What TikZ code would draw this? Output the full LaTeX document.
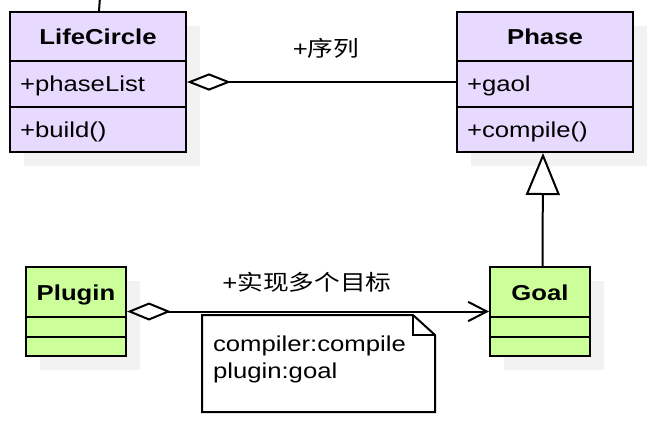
\documentclass[tikz,border=0pt]{standalone}
\usepackage{fontspec}
\setmainfont{Liberation Sans}[FakeStretch=1.19]
\newfontfamily\cjk{Noto Sans CJK SC}[FakeStretch=1.19]
\usetikzlibrary{arrows.meta,calc}
\definecolor{classpurple}{RGB}{232,218,255}
\definecolor{classgreen}{RGB}{204,255,153}
\definecolor{shadowgray}{RGB}{242,242,242}
\begin{document}
\begin{tikzpicture}[x=0.75pt,y=-0.75pt,line width=1.5pt,
  classbox/.style={draw=black,rectangle,inner sep=0pt},
  shadowbox/.style={fill=shadowgray,draw=none,rectangle,inner sep=0pt},
  bigbox/.style={minimum width=132pt,minimum height=105pt},
  smallbox/.style={minimum width=75pt,minimum height=66.75pt},
  lbl/.style={inner sep=0pt,font=\fontsize{16.2pt}{19pt}\selectfont},
  ttl/.style={inner sep=0pt,font=\fontsize{16.2pt}{19pt}\selectfont\bfseries,anchor=base},
  mem/.style={lbl,anchor=base west},
  conn/.style={line width=1.5pt}]
\useasboundingbox (0,0) rectangle (648,426);

% shadows
\node[shadowbox,bigbox] (lcs) at (112,96) {};
\node[shadowbox,bigbox] (phs) at (559,96) {};
\node[shadowbox,smallbox] (pls) at (90,325.5) {};
\node[shadowbox,smallbox] (gos) at (554,325.5) {};

% LifeCircle
\node[classbox,bigbox,fill=classpurple] (lc) at (98,82) {};
\draw ($(lc.north west)+(0,50)$) -- ($(lc.north east)+(0,50)$);
\draw ($(lc.north west)+(0,96)$) -- ($(lc.north east)+(0,96)$);
\node[ttl] (lct) at ($(lc.north)+(0,33)$) {LifeCircle};
\node[mem] (lca) at ($(lc.north west)+(10,80)$) {+phaseList};
\node[mem] (lcm) at ($(lc.north west)+(10,126)$) {+build()};

% Phase
\node[classbox,bigbox,fill=classpurple] (phase) at (545,82) {};
\draw ($(phase.north west)+(0,50)$) -- ($(phase.north east)+(0,50)$);
\draw ($(phase.north west)+(0,96)$) -- ($(phase.north east)+(0,96)$);
\node[ttl] (pht) at ($(phase.north)+(0,33)$) {Phase};
\node[mem] (pha) at ($(phase.north west)+(10,80)$) {+gaol};
\node[mem] (phm) at ($(phase.north west)+(10,126)$) {+compile()};

% Plugin
\node[classbox,smallbox,fill=classgreen] (plugin) at (76,311.5) {};
\draw ($(plugin.north west)+(0,51)$) -- ($(plugin.north east)+(0,51)$);
\draw ($(plugin.north west)+(0,71)$) -- ($(plugin.north east)+(0,71)$);
\node[ttl] (plt) at ($(plugin.north)+(0,34)$) {Plugin};

% Goal
\node[classbox,smallbox,fill=classgreen] (goal) at (540,311.5) {};
\draw ($(goal.north west)+(0,51)$) -- ($(goal.north east)+(0,51)$);
\draw ($(goal.north west)+(0,71)$) -- ($(goal.north east)+(0,71)$);
\node[ttl] (got) at ($(goal.north)+(0,34)$) {Goal};

% connectors
\coordinate (topend) at (100,-3);
\draw[conn] (topend) -- ($(lc.north)+(1,0)$);
\draw[conn,{Diamond[open,length=33pt,width=13pt]}-] (lc.east) -- (phase.west);
\node[lbl] (lab1) at (326,48) {+{\cjk 序列}};
\draw[conn,{Diamond[open,length=33pt,width=13.5pt]}-{Straight Barb[length=14pt,width=14.5pt]}] (plugin.east) -- (goal.west);
\node[lbl] (lab2) at (307,282) {+{\cjk 实现多个目标}};
\draw[conn,-{Triangle[open,fill=white,length=31.5pt,width=25.5pt]}] ($(goal.north)+(2.5,0)$) -- ($(phase.south)+(-2,0)$);

% note
\coordinate (na) at (202,315);
\coordinate (nb) at (413,315);
\coordinate (nc) at (435,335);
\coordinate (nd) at (435,412);
\coordinate (ne) at (202,412);
\coordinate (nf) at (413,335);
\draw[fill=white] (na) -- (nb) -- (nc) -- (nd) -- (ne) -- cycle;
\draw (nb) -- (nf) -- (nc);
\node[mem] (note1) at (212,351) {compiler:compile};
\node[mem] (note2) at (212,378) {plugin:goal};
\end{tikzpicture}
\end{document}
